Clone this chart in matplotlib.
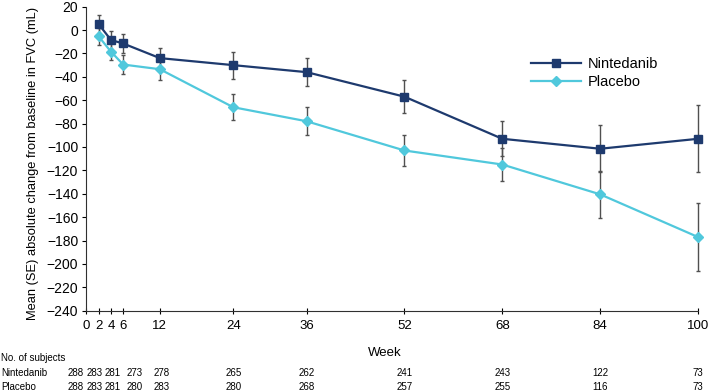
import numpy as np
import matplotlib.pyplot as plt
from matplotlib.transforms import blended_transform_factory

weeks = [2, 4, 6, 12, 24, 36, 52, 68, 84, 100]
nint_mean = [5, -8.5, -11.5, -24, -30, -36, -57, -93, -101.5, -93]
nint_se = [7.5, 7.5, 8, 9, 11.5, 12, 14, 15, 20, 28.5]
plac_mean = [-5.5, -18.5, -29.5, -33.5, -66, -78, -103, -115, -140.5, -177]
plac_se = [7, 7.5, 8, 9, 11, 12, 13.5, 14.5, 20, 29]

xticks = [0, 2, 4, 6, 12, 24, 36, 52, 68, 84, 100]
yticks = list(range(-240, 21, 20))

n_weeks = [0, 2, 4, 6, 12, 24, 36, 52, 68, 84, 100]
n_nint = [288, 283, 281, 273, 278, 265, 262, 241, 243, 122, 73]
n_plac = [288, 283, 281, 280, 283, 280, 268, 257, 255, 116, 73]
# the first four counts are spread out in the original so they don't overlap
n_xpos = [-1.7, 1.3, 4.3, 7.8, 12.3, 24, 36, 52, 68, 84, 100]

c_nint = "#1e3a6e"
c_plac = "#50c8dc"
c_err = "#505050"

plt.rcParams["font.family"] = ["Liberation Sans", "DejaVu Sans"]

fig = plt.figure(figsize=(7.09, 3.92), dpi=100)
ax = fig.add_axes([0.122, 0.2074, 0.8625, 0.7756])

for m, se in [(nint_mean, nint_se), (plac_mean, plac_se)]:
    eb = ax.errorbar(weeks, m, yerr=se, fmt="none", ecolor=c_err,
                     elinewidth=1, capsize=1.5, capthick=1, zorder=2)
    for art in eb.get_children():
        art.set_clip_on(False)
ax.plot(weeks, nint_mean, color=c_nint, lw=1.6, marker="s", ms=5.5,
        label="Nintedanib", zorder=3, clip_on=False)
ax.plot(weeks, plac_mean, color=c_plac, lw=1.6, marker="D", ms=5,
        label="Placebo", zorder=3, clip_on=False)

ax.set_xlim(0, 100)
ax.set_ylim(-240, 20)
ax.set_xticks(xticks)
ax.set_yticks(yticks)
ax.tick_params(axis="y", direction="out", length=3, pad=3, labelsize=10)
ax.tick_params(axis="x", direction="inout", length=5, pad=4, labelsize=9.5)
for s in ["top", "right"]:
    ax.spines[s].set_visible(False)
ax.spines["left"].set_color("#303030")
ax.spines["bottom"].set_color("#303030")

ax.set_ylabel("Mean (SE) absolute change from baseline in FVC (mL)",
              fontsize=9.3)
ax.yaxis.set_label_coords(-0.077, 0.486)

fig.text(385 / 709, 1 - 353 / 392, "Week", fontsize=9.5,
         ha="center", va="center")

ax.legend(loc="upper left", bbox_to_anchor=(518 / 709, 1 - 44 / 392),
          bbox_transform=fig.transFigure, frameon=False, fontsize=10.5,
          handlelength=3.4, handletextpad=0.5, labelspacing=0.25)

tr = blended_transform_factory(ax.transData, fig.transFigure)
fig.text(0.002, 1 - 358 / 392, "No. of subjects", fontsize=7, va="center")
fig.text(0.002, 1 - 373 / 392, "Nintedanib", fontsize=7, va="center")
fig.text(0.002, 1 - 386.5 / 392, "Placebo", fontsize=7, va="center")
for x, a, b in zip(n_xpos, n_nint, n_plac):
    ax.text(x, 1 - 373 / 392, str(a), transform=tr, fontsize=7,
            ha="center", va="center")
    ax.text(x, 1 - 386.5 / 392, str(b), transform=tr, fontsize=7,
            ha="center", va="center")

fig.savefig("out.png", dpi=100)
